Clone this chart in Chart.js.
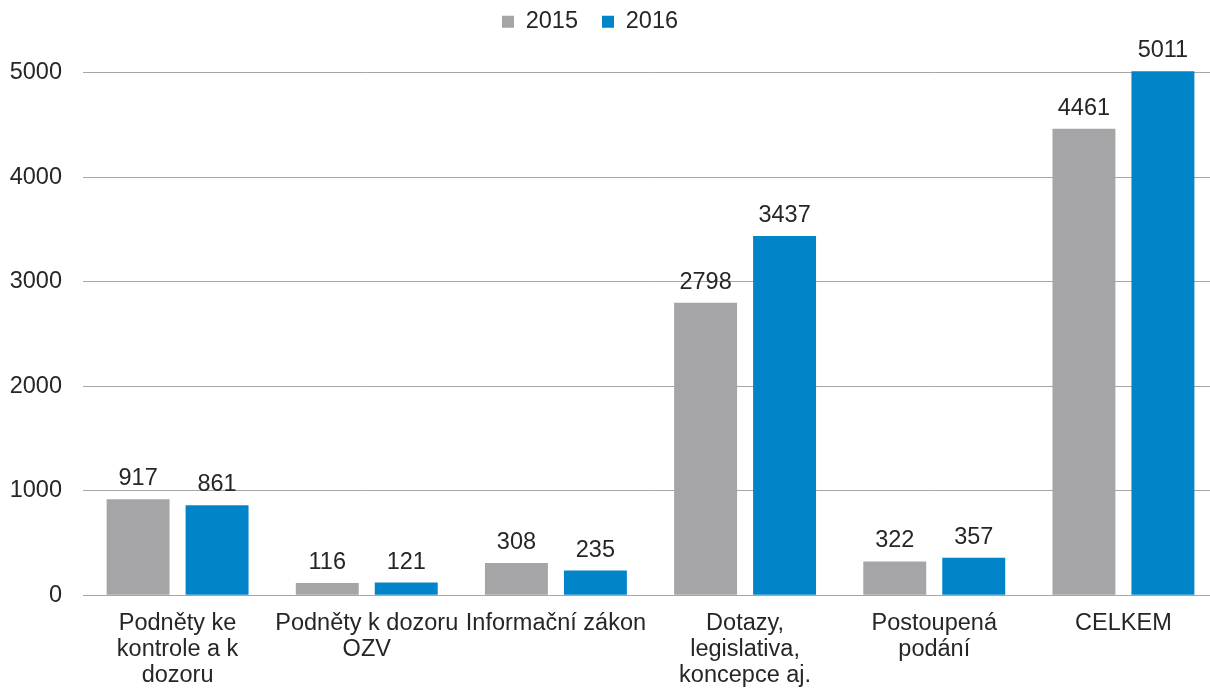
<!DOCTYPE html>
<html>
<head>
<meta charset="utf-8">
<script src="https://cdn.jsdelivr.net/npm/chart.js@4/dist/chart.umd.min.js"></script>
<style>
  html, body { margin: 0; padding: 0; background: #fff; overflow: hidden; }
  #wrap { width: 1210px; height: 690px; overflow: hidden; }
  #inner { width: 1220px; height: 704px; }
</style>
</head>
<body>
<div id="wrap"><div id="inner"><canvas id="bars"></canvas></div></div>
<script>
const categories = [
    ["Podněty ke", "kontrole a k", "dozoru"],
    ["Podněty k dozoru", "OZV"],
    ["Informační zákon"],
    ["Dotazy,", "legislativa,", "koncepce aj."],
    ["Postoupená", "podání"],
    ["CELKEM"]
];
const years = ["2015", "2016"];
const values2015 = [917, 116, 308, 2798, 322, 4461];
const values2016 = [861, 121, 235, 3437, 357, 5011];
const yTicks = [0, 1000, 2000, 3000, 4000, 5000];

const font = "'Liberation Sans', Arial, sans-serif";
const fontSize = 23.5;
const textColor = "#262626";

// labels above each bar
const valueLabels = {
    id: "valueLabels",
    afterDatasetsDraw(chart) {
        const ctx = chart.ctx;
        ctx.save();
        ctx.font = fontSize + "px " + font;
        ctx.fillStyle = textColor;
        ctx.textAlign = "center";
        ctx.textBaseline = "alphabetic";
        chart.data.datasets.forEach((ds, i) => {
            chart.getDatasetMeta(i).data.forEach((bar, j) => {
                ctx.fillText(ds.data[j], bar.x, bar.y - 14);
            });
        });
        ctx.restore();
    }
};

// extra room under the legend, and nudge it up/left like the original
const legendSpace = {
    id: "legendSpace",
    beforeInit(chart) {
        const fit = chart.legend.fit;
        chart.legend.fit = function () {
            fit.bind(chart.legend)();
            this.height += 15;
        };
    },
    beforeDraw(chart) {
        chart.legend.left -= 24;
        chart.legend.right -= 24;
        chart.legend.top -= 14;
    },
    afterDraw(chart) {
        chart.legend.left += 24;
        chart.legend.right += 24;
        chart.legend.top += 14;
    }
};

new Chart(document.getElementById("bars"), {
    type: "bar",
    data: {
        labels: categories,
        datasets: [
            {
                label: years[0],
                data: values2015,
                backgroundColor: "#A5A5A8",
                categoryPercentage: 0.835,
                barPercentage: 0.797,
                clip: false
            },
            {
                label: years[1],
                data: values2016,
                backgroundColor: "#0284C9",
                categoryPercentage: 0.835,
                barPercentage: 0.797,
                clip: false
            }
        ]
    },
    options: {
        responsive: true,
        maintainAspectRatio: false,
        animation: false,
        layout: { padding: { left: 10, right: 2, top: 0, bottom: 0 } },
        plugins: {
            legend: {
                position: "top",
                labels: {
                    font: { family: font, size: fontSize },
                    color: textColor,
                    boxWidth: 12,
                    boxHeight: 12,
                    padding: 24
                }
            },
            tooltip: { enabled: false }
        },
        scales: {
            x: {
                grid: { display: false, drawTicks: false },
                border: { color: "#A6A6A6", width: 1 },
                ticks: {
                    font: { family: font, size: fontSize, lineHeight: 1.09 },
                    color: textColor,
                    maxRotation: 0,
                    autoSkip: false,
                    padding: 16
                }
            },
            y: {
                min: 0,
                max: 5000,
                afterBuildTicks(axis) {
                    axis.ticks = yTicks.map(v => ({ value: v }));
                },
                afterFit(axis) {
                    axis.width = 73;
                },
                grid: { color: "#A6A6A6", drawTicks: false },
                border: { display: false },
                ticks: {
                    font: { family: font, size: fontSize },
                    color: textColor,
                    padding: 21,
                    callback: v => String(v)
                }
            }
        }
    },
    plugins: [valueLabels, legendSpace]
});
</script>
</body>
</html>
